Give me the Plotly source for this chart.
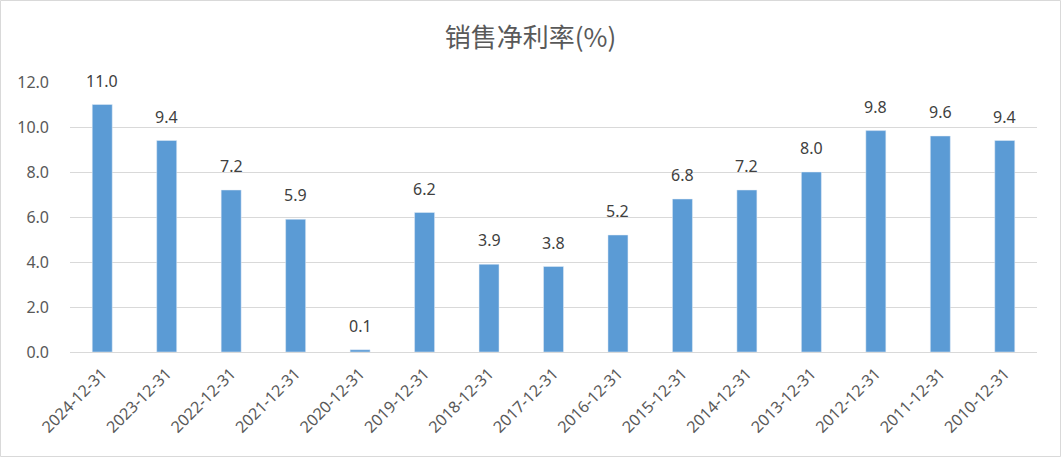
import plotly.graph_objects as go

categories = ["2024-12-31", "2023-12-31", "2022-12-31", "2021-12-31", "2020-12-31",
              "2019-12-31", "2018-12-31", "2017-12-31", "2016-12-31", "2015-12-31",
              "2014-12-31", "2013-12-31", "2012-12-31", "2011-12-31", "2010-12-31"]
values = [11.0, 9.4, 7.2, 5.9, 0.1, 6.2, 3.9, 3.8, 5.2, 6.8, 7.2, 8.0, 9.84, 9.6, 9.4]
y_ticks = [0, 2, 4, 6, 8, 10, 12]

W, H = 1061, 457
L, R, T, B = 70, 24, 82, 105
pw, ph = W - L - R, H - T - B
FONT = "Noto Sans, DejaVu Sans"

fig = go.Figure(go.Bar(
    x=categories, y=values,
    marker_color="#5b9bd5",
    cliponaxis=False,
))

for c, v in zip(categories, values):
    fig.add_annotation(x=c, y=v, text=f"{v:.1f}", showarrow=False,
                       yanchor="bottom", yshift=11,
                       font=dict(size=16, color="#404040", family=FONT))

fig.update_layout(
    width=W, height=H,
    margin=dict(l=L, r=R, t=T, b=B, autoexpand=False),
    paper_bgcolor="white", plot_bgcolor="white",
    bargap=0.69,
    title=dict(text="销售净利率(%)", x=0.5, xanchor="center", y=1 - 38 / H, yanchor="middle",
               font=dict(size=26, color="#595959", family="Noto Sans CJK SC")),
    showlegend=False,
    xaxis=dict(type="category", tickangle=-45, showgrid=False, showline=False,
               automargin=False, ticklabelstandoff=8,
               tickfont=dict(size=16, color="#595959", family=FONT),
               ticks=""),
    yaxis=dict(range=[0, 12], tickvals=y_ticks, tickformat=".1f",
               automargin=False, ticklabelstandoff=20,
               showgrid=True, gridcolor="#d9d9d9", gridwidth=1,
               zeroline=True, zerolinecolor="#d9d9d9", zerolinewidth=1,
               showline=False, ticks="", ticklen=0,
               tickfont=dict(size=16, color="#595959", family=FONT)),
)

fig.add_shape(type="rect", xref="paper", yref="paper",
              x0=-(L - 0.5) / pw, x1=(W - L - 0.5) / pw,
              y0=-(B - 0.5) / ph, y1=(H - B - 0.5) / ph,
              line=dict(color="#d9d9d9", width=1), fillcolor="rgba(0,0,0,0)", layer="below")

fig.write_html("out.html", config={"displayModeBar": False},
               post_script="document.body.style.margin='0';document.body.style.padding='0';"
                           "document.body.style.overflow='hidden';")
